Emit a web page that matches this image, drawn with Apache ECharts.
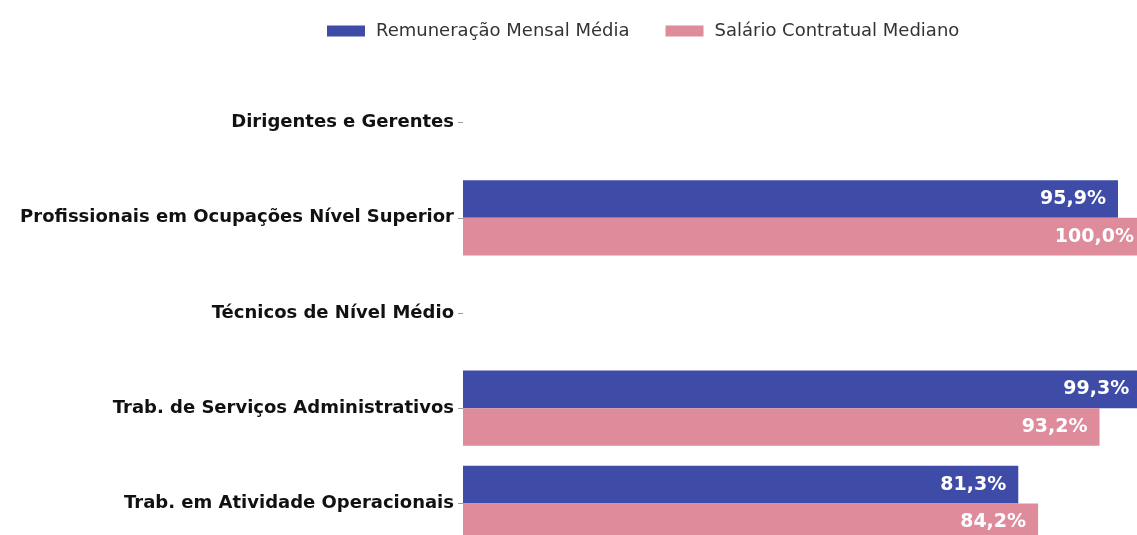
<!DOCTYPE html>
<html>
<head>
<meta charset="utf-8">
<script src="https://cdn.jsdelivr.net/npm/echarts@6/dist/echarts.min.js"></script>
<style>
  html, body { margin: 0; padding: 0; background: #fff; overflow: hidden; }
  /* the reference is cropped on the right and bottom, so draw a bit larger */
  #chart { width: 1146px; height: 551px; }
</style>
</head>
<body>
<div id="chart"></div>
<script>
const categories = [
  'Dirigentes e Gerentes',
  'Profissionais em Ocupações Nível Superior',
  'Técnicos de Nível Médio',
  'Trab. de Serviços Administrativos',
  'Trab. em Atividade Operacionais'
]
const seriesNames = ['Remuneração Mensal Média', 'Salário Contratual Mediano']
const remuneracao = [null, 95.9, null, 99.3, 81.3]
const salario = [null, 100.0, null, 93.2, 84.2]

const chart = echarts.init(document.getElementById('chart'))

const valueLabel = {
  show: true,
  position: 'insideRight',
  distance: 12,
  color: '#fff',
  fontFamily: 'DejaVu Sans',
  fontWeight: 'bold',
  fontSize: 19,
  formatter: p => p.value.toFixed(1).replace('.', ',') + '%'
}

chart.setOption({
  animation: false,
  legend: {
    left: 322,
    top: 17,
    itemWidth: 38,
    itemHeight: 11,
    itemGap: 36,
    icon: 'rect',
    textStyle: { fontFamily: 'DejaVu Sans', fontSize: 18, color: '#333', padding: [0, 0, 0, 6] },
    data: seriesNames
  },
  grid: {
    left: 463,
    right: 0,
    top: 75,
    bottom: 0,
    containLabel: false
  },
  xAxis: {
    type: 'value',
    min: 0,
    max: 100,
    show: false
  },
  yAxis: {
    type: 'category',
    inverse: true,
    data: categories,
    axisLine: { show: false },
    axisTick: { show: true, alignWithLabel: true, length: 5, lineStyle: { color: '#999' } },
    axisLabel: {
      fontFamily: 'DejaVu Sans',
      fontWeight: 'bold',
      fontSize: 18,
      color: '#111',
      margin: 9
    }
  },
  series: [
    {
      name: seriesNames[0],
      type: 'bar',
      data: remuneracao,
      barGap: '0%',
      barCategoryGap: '21%',
      itemStyle: { color: '#3e4ca8' },
      label: valueLabel
    },
    {
      name: seriesNames[1],
      type: 'bar',
      data: salario,
      barGap: '0%',
      barCategoryGap: '21%',
      itemStyle: { color: '#de8b9b' },
      label: valueLabel
    }
  ]
})
</script>
</body>
</html>
